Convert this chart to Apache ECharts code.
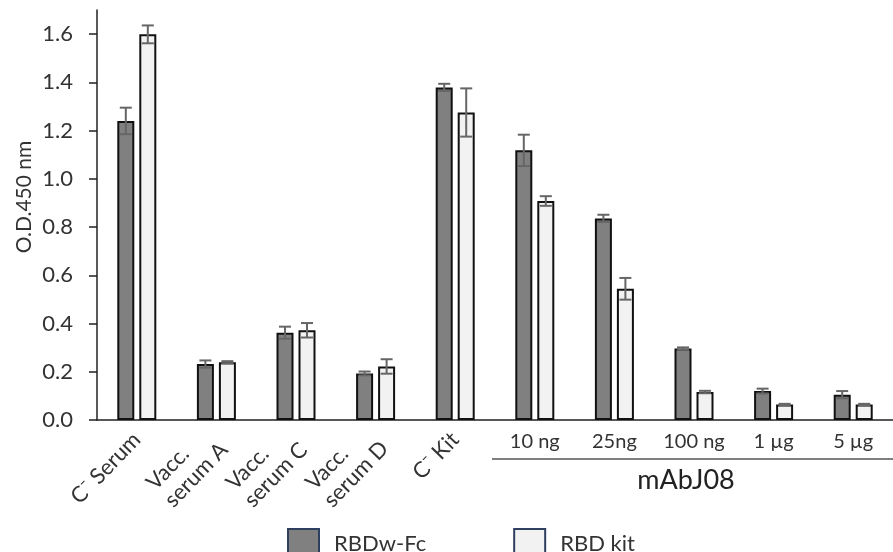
<!DOCTYPE html>
<html>
<head>
<meta charset="utf-8">
<script src="https://cdn.jsdelivr.net/npm/echarts@6/dist/echarts.min.js"></script>
<style>
  html, body { margin: 0; padding: 0; background: #fff; }
  #chart { width: 893px; height: 552px; }
</style>
</head>
<body>
<div id="chart"></div>
<script>
  // categories: first five get rotated labels, the rest are mAbJ08 doses
  var categories = ['C\u207B Serum', 'Vacc.\nserum A', 'Vacc.\nserum C', 'Vacc.\nserum D', 'C\u207B Kit',
    '10 ng', '25ng', '100 ng', '1 \u00B5g', '5 \u00B5g']
  var rotatedCount = 5
  var rbdwFc = [1.24, 0.232, 0.362, 0.193, 1.379, 1.118, 0.836, 0.296, 0.120, 0.105]
  var rbdwFcErr = [0.055, 0.015, 0.025, 0.008, 0.015, 0.065, 0.015, 0.005, 0.010, 0.015]
  var rbdKit = [1.599, 0.239, 0.372, 0.222, 1.275, 0.908, 0.544, 0.116, 0.064, 0.064]
  var rbdKitErr = [0.037, 0.005, 0.030, 0.030, 0.100, 0.020, 0.045, 0.005, 0.003, 0.003]
  var yTicks = [0, 0.2, 0.4, 0.6, 0.8, 1.0, 1.2, 1.4, 1.6]

  var barW = 17
  var gapPx = 5
  var font = 'Lato, "Open Sans", sans-serif'

  function errData (vals, errs) {
    return vals.map(function (v, i) { return [i, v, errs[i]] })
  }

  function errSeries (name, vals, errs, shift) {
    return {
      name: name + ' err',
      type: 'custom',
      z: 5,
      data: errData(vals, errs),
      renderItem: function (params, api) {
        var top = api.coord([api.value(0), api.value(1) + api.value(2)])
        var bot = api.coord([api.value(0), api.value(1) - api.value(2)])
        var x = top[0] + shift
        var cap = 6
        var st = { stroke: '#666', lineWidth: 2 }
        return {
          type: 'group',
          children: [
            { type: 'line', shape: { x1: x, y1: top[1], x2: x, y2: bot[1] }, style: st },
            { type: 'line', shape: { x1: x - cap, y1: top[1], x2: x + cap, y2: top[1] }, style: st },
            { type: 'line', shape: { x1: x - cap, y1: bot[1], x2: x + cap, y2: bot[1] }, style: st }
          ]
        }
      }
    }
  }

  // two-line labels: lines left-aligned inside a fixed-width box
  function rotLabel (v, i) {
    if (i >= rotatedCount) return ''
    if (v.indexOf('\n') < 0) return v
    return v.split('\n').map(function (s) { return '{l|' + s + '}' }).join('\n')
  }

  var shift = (barW + gapPx) / 2
  var chart = echarts.init(document.getElementById('chart'))
  chart.setOption({
    animation: false,
    textStyle: { fontFamily: font },
    grid: { left: 97, top: 10, width: 800, height: 410 },
    legend: {
      left: 282,
      top: 523,
      itemWidth: 31,
      itemHeight: 30,
      itemGap: 87,
      icon: 'rect',
      textStyle: { fontSize: 22, color: '#333', fontFamily: font, padding: [0, 0, 0, 10] },
      data: [
        { name: 'RBDw-Fc', itemStyle: { color: '#808080', borderColor: '#2f3f5f', borderWidth: 2 } },
        { name: 'RBD kit', itemStyle: { color: '#f2f2f2', borderColor: '#2f3f5f', borderWidth: 2 } }
      ]
    },
    xAxis: [{
      type: 'category',
      position: 'bottom',
      data: categories,
      axisLine: { lineStyle: { color: '#222', width: 1.5 } },
      axisTick: { length: 8, lineStyle: { color: '#222', width: 1.5 } },
      axisLabel: {
        rotate: 46,
        interval: 0,
        margin: 16,
        fontSize: 22,
        color: '#333',
        lineHeight: 25,
        formatter: rotLabel,
        rich: {
          l: { width: 82, align: 'left', fontSize: 22, lineHeight: 25, color: '#333', fontFamily: font }
        }
      }
    }, {
      type: 'category',
      position: 'bottom',
      data: categories,
      axisLine: { show: false },
      axisTick: { show: false },
      axisLabel: {
        interval: 0,
        margin: 12,
        fontSize: 20,
        color: '#333',
        formatter: function (v, i) { return i >= rotatedCount ? v : '' }
      }
    }],
    yAxis: {
      type: 'value',
      min: 0,
      max: 1.7,
      name: 'O.D.450 nm',
      nameLocation: 'middle',
      nameGap: 62,
      nameMoveOverlap: false,
      nameTextStyle: { fontSize: 21, color: '#333', padding: [0, 0, 0, 36] },
      splitLine: { show: false },
      axisLine: { show: true, lineStyle: { color: '#222', width: 1.5 } },
      axisTick: { show: true, length: 8, customValues: yTicks, lineStyle: { color: '#222', width: 1.5 } },
      axisLabel: {
        customValues: yTicks,
        fontSize: 22,
        color: '#333',
        margin: 24,
        formatter: function (v) { return v.toFixed(1) }
      }
    },
    series: [{
      name: 'RBDw-Fc',
      type: 'bar',
      data: rbdwFc,
      barWidth: barW,
      barGap: (gapPx / barW * 100) + '%',
      itemStyle: { color: '#808080', borderColor: '#111', borderWidth: 2 }
    }, {
      name: 'RBD kit',
      type: 'bar',
      data: rbdKit,
      barWidth: barW,
      itemStyle: { color: '#f2f2f2', borderColor: '#111', borderWidth: 2 }
    },
    errSeries('RBDw-Fc', rbdwFc, rbdwFcErr, -shift),
    errSeries('RBD kit', rbdKit, rbdKitErr, shift)],
    graphic: [{
      type: 'line',
      shape: { x1: 492, y1: 459, x2: 893, y2: 459 },
      style: { stroke: '#555', lineWidth: 1.5 }
    }, {
      type: 'text',
      x: 686,
      y: 480,
      style: { text: 'mAbJ08', fontSize: 27, fontFamily: font, fill: '#222', align: 'center', verticalAlign: 'middle' }
    }]
  })
</script>
</body>
</html>
